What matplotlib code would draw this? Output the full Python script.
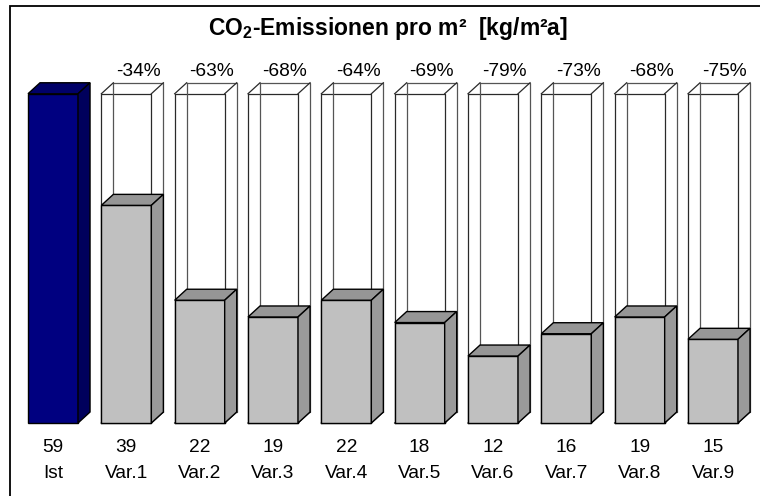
import matplotlib as mpl
mpl.use('Agg')
import matplotlib.pyplot as plt
from matplotlib.patches import Polygon, Rectangle
import numpy as np

mpl.rcParams['font.family'] = ['Liberation Sans', 'DejaVu Sans']
mpl.rcParams['mathtext.fontset'] = 'custom'
mpl.rcParams['mathtext.bf'] = 'Liberation Sans:bold'
mpl.rcParams['mathtext.rm'] = 'Liberation Sans'

labels = ['Ist', 'Var.1', 'Var.2', 'Var.3', 'Var.4', 'Var.5', 'Var.6', 'Var.7', 'Var.8', 'Var.9']
values = [59, 39, 22, 19, 22, 18, 12, 16, 19, 15]
changes = ['', '-34%', '-63%', '-68%', '-64%', '-69%', '-79%', '-73%', '-68%', '-75%']
ref_value = values[0]

# box geometry (data units)
half_w = 0.341
dx = 0.164
dy = 1.97


def box(ax, x, h, front, top, side, ec, lw, z):
    x0, x1 = x - half_w, x + half_w
    ax.add_patch(Polygon([(x0, 0), (x1, 0), (x1, h), (x0, h)], closed=True,
                         fc=front, ec=ec, lw=lw, zorder=z))
    ax.add_patch(Polygon([(x0, h), (x1, h), (x1 + dx, h + dy), (x0 + dx, h + dy)],
                         closed=True, fc=top, ec=ec, lw=lw, zorder=z))
    ax.add_patch(Polygon([(x1, 0), (x1 + dx, dy), (x1 + dx, h + dy), (x1, h)],
                         closed=True, fc=side, ec=ec, lw=lw, zorder=z))


def wire(ax, x, h):
    x0, x1 = x - half_w, x + half_w
    kw = dict(color='#2a2a2a', lw=0.9, zorder=1)
    # front
    ax.plot([x0, x1, x1, x0, x0], [0, 0, h, h, 0], **kw)
    # back
    ax.plot([x0 + dx, x1 + dx, x1 + dx, x0 + dx, x0 + dx],
            [dy, dy, h + dy, h + dy, dy], color='#555555', lw=0.9, zorder=1)
    # connecting edges
    for xa, ya in [(x0, 0), (x1, 0), (x1, h), (x0, h)]:
        ax.plot([xa, xa + dx], [ya, ya + dy], **kw)


fig = plt.figure(figsize=(7.6, 4.96), dpi=100)
ax = fig.add_axes([0, 0, 1, 1])
ax.set_xlim(-0.7228, 9.641)
ax.set_ylim(-13.08, 75.8)
ax.axis('off')

# outer frame (only top and left visible in the original)
fig.patches.append(Rectangle((10 / 760, -0.1), 1.2, 1 - 6 / 496 + 0.1,
                             transform=fig.transFigure, fill=False,
                             ec='black', lw=1.3))

x = np.arange(len(values))
for i, v in enumerate(values):
    if i == 0:
        box(ax, x[i], v, '#000080', '#000068', '#00005c', 'black', 1.0, 3)
    else:
        wire(ax, x[i], ref_value)
        box(ax, x[i], v, '#c0c0c0', '#969696', '#9a9a9a', 'black', 1.0, 3)
        ax.text(x[i] + 0.16, 63.0, changes[i], ha='center', va='center', fontsize=13.8)
    ax.text(x[i], -4.4, str(v), ha='center', va='center', fontsize=13.8)
    ax.text(x[i], -9.0, labels[i], ha='center', va='center', fontsize=13.8)

fig.text(388 / 760, 1 - 28 / 496, r'$\mathbf{CO_2}$-Emissionen pro m²  [kg/m²a]',
         ha='center', va='center', fontsize=16.5, fontweight='bold')

fig.savefig('out.png', dpi=100)
